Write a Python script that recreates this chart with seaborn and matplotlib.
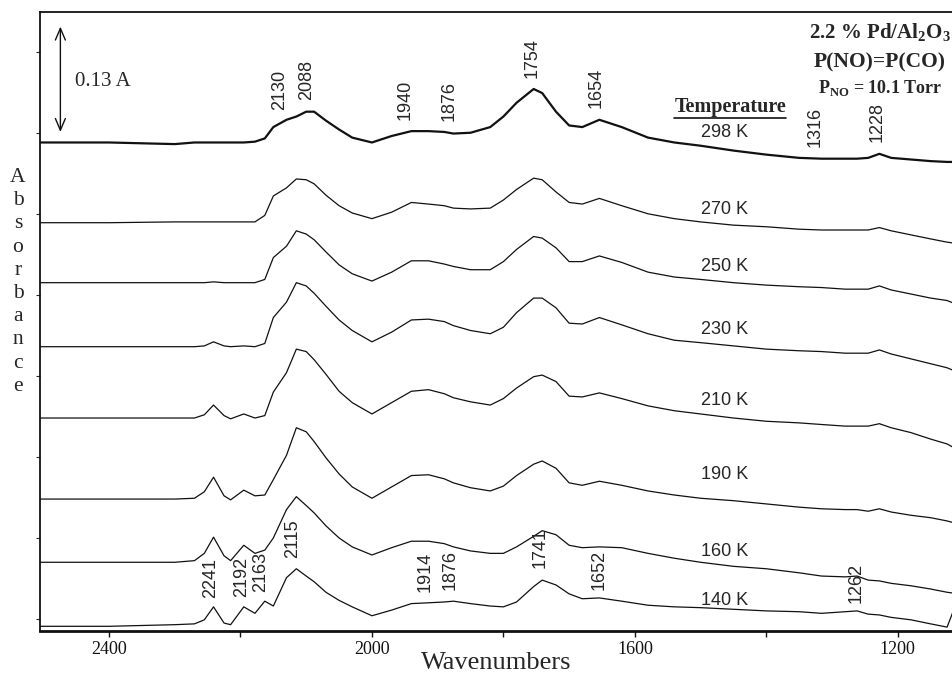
import matplotlib
matplotlib.use("Agg")
import pandas as pd
import seaborn as sns
from matplotlib import pyplot as plt
from matplotlib.lines import Line2D

# common wavenumber grid (cm-1)
wavenumber = [2505, 2400, 2300, 2270, 2255, 2241, 2225, 2215, 2195, 2178,
              2163, 2150, 2130, 2115, 2100, 2088, 2070, 2050, 2030, 2000,
              1970, 1940, 1914, 1890, 1876, 1850, 1820, 1800, 1780, 1754,
              1741, 1720, 1700, 1680, 1654, 1620, 1580, 1540, 1500, 1450,
              1400, 1350, 1316, 1280, 1262, 1245, 1228, 1210, 1180, 1150,
              1125, 1116]

# stacked absorbance traces, as displayed
abs_298 = [0.588, 0.588, 0.586, 0.588, 0.588, 0.588, 0.588, 0.588, 0.588, 0.589,
           0.593, 0.607, 0.616, 0.620, 0.626, 0.626, 0.615, 0.604, 0.594, 0.588,
           0.596, 0.602, 0.602, 0.601, 0.599, 0.600, 0.607, 0.620, 0.637, 0.654,
           0.649, 0.626, 0.609, 0.607, 0.616, 0.607, 0.594, 0.588, 0.584, 0.578,
           0.573, 0.569, 0.568, 0.568, 0.568, 0.569, 0.574, 0.569, 0.567, 0.565,
           0.564, 0.564]
abs_270 = [0.489, 0.489, 0.490, 0.490, 0.490, 0.490, 0.490, 0.490, 0.490, 0.490,
           0.498, 0.522, 0.532, 0.543, 0.542, 0.537, 0.523, 0.510, 0.501, 0.494,
           0.502, 0.514, 0.512, 0.510, 0.507, 0.506, 0.507, 0.517, 0.530, 0.544,
           0.542, 0.527, 0.514, 0.512, 0.519, 0.510, 0.500, 0.494, 0.490, 0.486,
           0.484, 0.481, 0.480, 0.480, 0.480, 0.480, 0.483, 0.479, 0.474, 0.469,
           0.465, 0.464]
abs_250 = [0.415, 0.415, 0.415, 0.415, 0.415, 0.416, 0.415, 0.415, 0.415, 0.415,
           0.419, 0.446, 0.460, 0.479, 0.475, 0.468, 0.453, 0.437, 0.426, 0.417,
           0.428, 0.442, 0.442, 0.438, 0.435, 0.431, 0.431, 0.441, 0.456, 0.472,
           0.470, 0.458, 0.441, 0.441, 0.448, 0.440, 0.428, 0.422, 0.419, 0.415,
           0.412, 0.410, 0.409, 0.407, 0.407, 0.407, 0.411, 0.406, 0.401, 0.396,
           0.393, 0.390]
abs_230 = [0.336, 0.336, 0.336, 0.336, 0.337, 0.342, 0.337, 0.336, 0.337, 0.336,
           0.340, 0.372, 0.391, 0.415, 0.411, 0.402, 0.386, 0.369, 0.356, 0.342,
           0.354, 0.369, 0.370, 0.367, 0.362, 0.356, 0.352, 0.360, 0.378, 0.396,
           0.396, 0.384, 0.365, 0.364, 0.372, 0.363, 0.352, 0.344, 0.341, 0.337,
           0.333, 0.331, 0.330, 0.328, 0.328, 0.328, 0.332, 0.327, 0.321, 0.315,
           0.310, 0.307]
abs_210 = [0.248, 0.248, 0.248, 0.248, 0.252, 0.264, 0.251, 0.247, 0.253, 0.248,
           0.251, 0.280, 0.304, 0.333, 0.330, 0.320, 0.302, 0.281, 0.267, 0.253,
           0.267, 0.281, 0.283, 0.278, 0.273, 0.268, 0.264, 0.272, 0.285, 0.299,
           0.301, 0.293, 0.275, 0.274, 0.279, 0.272, 0.263, 0.257, 0.253, 0.248,
           0.244, 0.242, 0.240, 0.238, 0.238, 0.238, 0.241, 0.236, 0.230, 0.222,
           0.216, 0.212]
abs_190 = [0.148, 0.148, 0.148, 0.149, 0.157, 0.175, 0.152, 0.147, 0.159, 0.152,
           0.153, 0.172, 0.202, 0.236, 0.231, 0.219, 0.199, 0.179, 0.163, 0.149,
           0.163, 0.177, 0.178, 0.173, 0.168, 0.162, 0.158, 0.164, 0.177, 0.191,
           0.195, 0.186, 0.168, 0.165, 0.170, 0.165, 0.158, 0.153, 0.149, 0.146,
           0.142, 0.138, 0.136, 0.135, 0.135, 0.133, 0.136, 0.132, 0.128, 0.125,
           0.121, 0.119]
abs_160 = [0.070, 0.070, 0.070, 0.072, 0.081, 0.101, 0.078, 0.072, 0.091, 0.081,
           0.085, 0.100, 0.135, 0.151, 0.140, 0.131, 0.115, 0.100, 0.089, 0.079,
           0.088, 0.096, 0.096, 0.093, 0.089, 0.084, 0.081, 0.081, 0.089, 0.102,
           0.109, 0.104, 0.091, 0.088, 0.089, 0.088, 0.081, 0.075, 0.070, 0.065,
           0.062, 0.057, 0.053, 0.052, 0.053, 0.048, 0.047, 0.044, 0.041, 0.037,
           0.033, 0.032]
abs_140 = [-0.009, -0.009, -0.007, -0.006, -0.001, 0.015, -0.005, -0.007, 0.015, 0.007,
           0.022, 0.016, 0.051, 0.062, 0.053, 0.046, 0.033, 0.023, 0.015, 0.004,
           0.011, 0.019, 0.020, 0.021, 0.022, 0.019, 0.016, 0.015, 0.021, 0.040,
           0.048, 0.042, 0.031, 0.025, 0.026, 0.022, 0.017, 0.015, 0.014, 0.012,
           0.010, 0.009, 0.007, 0.009, 0.010, 0.006, 0.005, 0.002, -0.001, -0.006,
           -0.010, 0.009]

temperatures = ["298 K", "270 K", "250 K", "230 K", "210 K", "190 K", "160 K", "140 K"]
spectra = [abs_298, abs_270, abs_250, abs_230, abs_210, abs_190, abs_160, abs_140]

# label heights for the temperature names
temp_label_y = [0.600, 0.505, 0.435, 0.357, 0.270, 0.178, 0.083, 0.023]

# peak annotations: text, x, y of the text bottom
top_peaks = [("2130", 2140, 0.628), ("2088", 2099, 0.641), ("1940", 1950, 0.616),
             ("1876", 1883, 0.614), ("1754", 1757, 0.668), ("1654", 1659, 0.631),
             ("1316", 1325, 0.583), ("1228", 1232, 0.588)]
low_peaks = [("2241", 2246, 0.026), ("2192", 2198, 0.027), ("2163", 2169, 0.033),
             ("2115", 2120, 0.075), ("1914", 1919, 0.033), ("1876", 1881, 0.036),
             ("1741", 1744, 0.063), ("1652", 1655, 0.036), ("1262", 1264, 0.020)]

scale_bar = 0.13

df = pd.concat([pd.DataFrame({"wavenumber": wavenumber, "absorbance": s,
                              "temperature": t})
                for t, s in zip(temperatures, spectra)])

sns.set_theme(style="ticks")
plt.rcParams["font.family"] = ["Liberation Serif", "DejaVu Serif"]
plt.rcParams["mathtext.fontset"] = "custom"
plt.rcParams["mathtext.rm"] = "Liberation Serif"
plt.rcParams["mathtext.bf"] = "Liberation Serif:bold"

sans = ["Liberation Sans", "DejaVu Sans"]

fig = plt.figure(figsize=(9.53, 6.75), dpi=100)
ax = fig.add_axes([40 / 953, 44 / 675, 913 / 953, 619 / 675])

for t in temperatures:
    sub = df[df["temperature"] == t]
    sns.lineplot(data=sub, x="wavenumber", y="absorbance", ax=ax,
                 color="#111111", linewidth=1.6 if t == "298 K" else 0.9,
                 estimator=None, sort=False)
for line in ax.lines:
    line.set_solid_joinstyle("round")

ax.set_xlim(2505, 1116)
ax.set_ylim(-0.0148, 0.749)
ax.set_xticks([2400, 2000, 1600, 1200])
ax.set_xticks([2200, 1800, 1400], minor=True)
ax.set_yticks([0.0, 0.1, 0.2, 0.3, 0.4, 0.5, 0.6, 0.7])
ax.set_yticklabels([])
ax.tick_params(axis="x", which="both", direction="out", length=4, width=1,
               labelsize=13, colors="#111111", pad=3)
ax.tick_params(axis="y", direction="out", length=3, width=0.8)
ax.set_xlabel("Wavenumbers", fontsize=19, labelpad=-4)
ax.set_ylabel("")
ax.spines["right"].set_visible(False)
ax.spines["top"].set_linewidth(1.3)
ax.spines["left"].set_linewidth(1.3)
ax.spines["bottom"].set_linewidth(2.0)
for s in ax.spines.values():
    s.set_color("#111111")

# scale bar
ax.annotate("", xy=(2474, 0.601 + scale_bar), xytext=(2474, 0.601),
            arrowprops=dict(arrowstyle="<->,head_length=0.7,head_width=0.3",
                            lw=1.0, color="#111111", shrinkA=0, shrinkB=0))
ax.text(2452, 0.663, "%.2f A" % scale_bar, fontsize=15, va="center", ha="left")

for t, y in zip(temperatures, temp_label_y):
    ax.text(1463, y, t, fontsize=13, family=sans, ha="center", va="center")

for txt, x, y in top_peaks + low_peaks:
    ax.text(x, y, txt, fontsize=13, family=sans, rotation=90,
            ha="center", va="bottom")

temp_title = ax.text(1455, 0.632, "Temperature", fontsize=14.5,
                     fontweight="bold", ha="center", va="center")

ax.text(0.920, 0.966, r"2.2 % Pd/Al$_\mathbf{2}$O$_\mathbf{3}$",
        transform=ax.transAxes, fontsize=15, fontweight="bold",
        ha="center", va="center")
ax.text(0.920, 0.919, "P(NO)=P(CO)", transform=ax.transAxes, fontsize=15.5,
        fontweight="bold", ha="center", va="center")
ax.text(0.920, 0.877, r"P$_\mathbf{NO}$ = 10.1 Torr", transform=ax.transAxes,
        fontsize=13, fontweight="bold", ha="center", va="center")

fig.text(18 / 953, 1 - 282 / 675, "\n".join("Absorbance"), fontsize=15.5,
         ha="center", va="center", linespacing=1.3)

# underline the "Temperature" heading
fig.canvas.draw()
bb = temp_title.get_window_extent()
fig.add_artist(Line2D([bb.x0, bb.x1], [bb.y0 - 1, bb.y0 - 1],
                      transform=None, color="#111111", lw=1.2))

fig.savefig("out.png", dpi=100)
plt.close(fig)
